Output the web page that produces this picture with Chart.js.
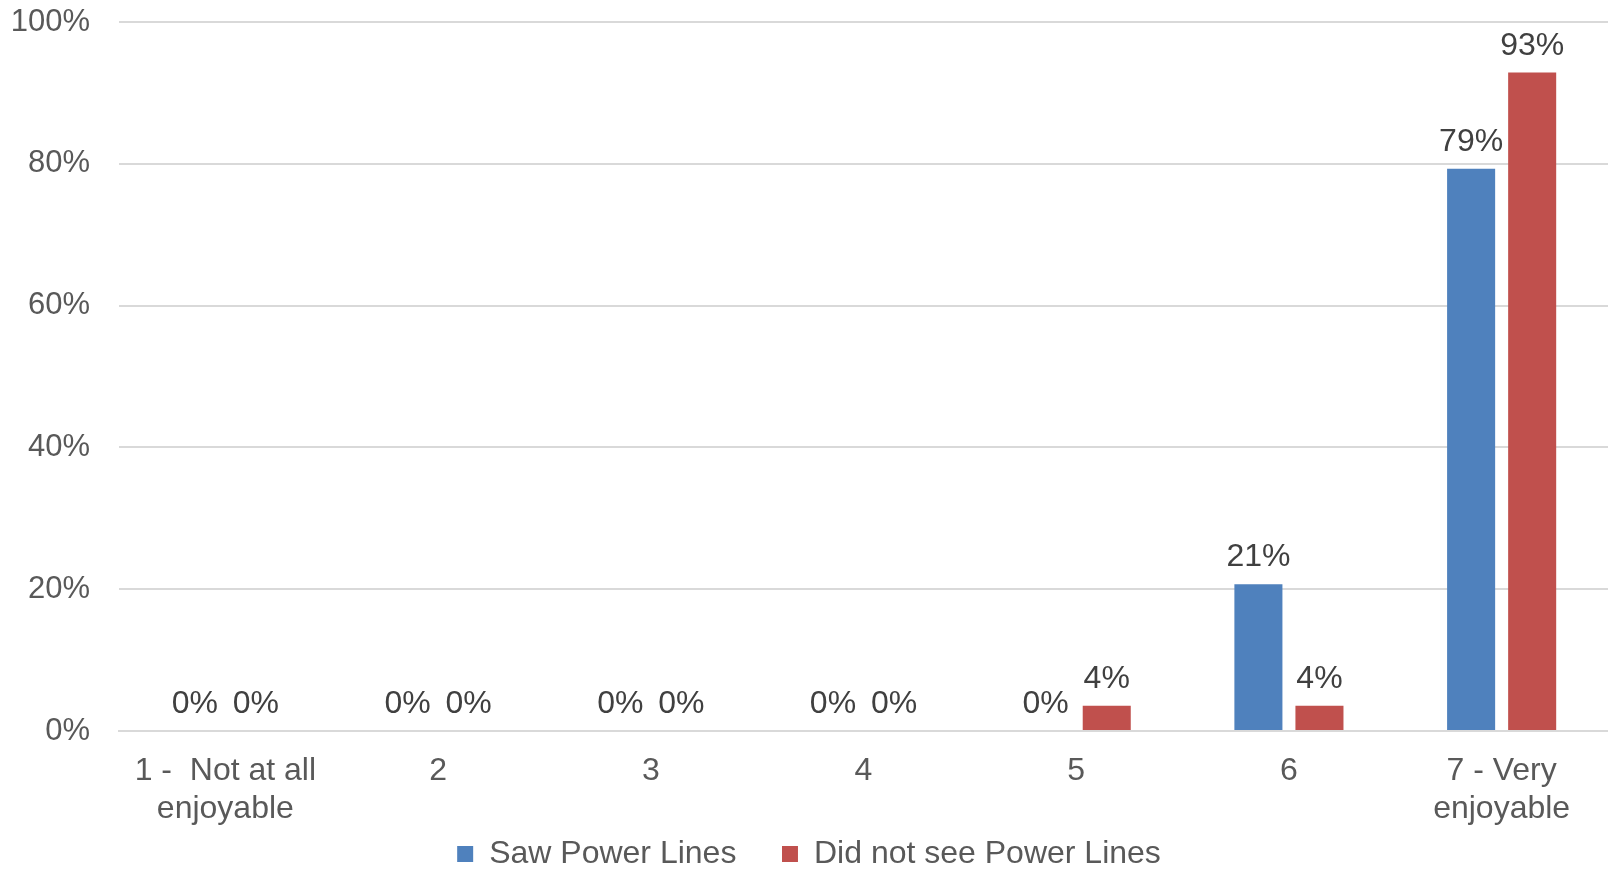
<!DOCTYPE html>
<html>
<head>
<meta charset="utf-8">
<script src="https://cdn.jsdelivr.net/npm/chart.js@4/dist/chart.umd.min.js"></script>
<style>
  html, body { margin: 0; padding: 0; background: #fff; }
  #wrap { width: 1608px; height: 869px; }
</style>
</head>
<body>
<div id="wrap"><canvas id="chartBar"></canvas></div>
<script>
  'use strict';

  var categories = [["1 -  Not at all", "enjoyable"], "2", "3", "4", "5", "6", ["7 - Very", "enjoyable"]];
  var sawValues = [0, 0, 0, 0, 0, 20.69, 79.31];
  var notSawValues = [0, 0, 0, 0, 3.57, 3.57, 92.86];
  var seriesNames = ["Saw Power Lines", "Did not see Power Lines"];
  var yTicks = [0, 20, 40, 60, 80, 100];

  var colors = {
    blue     : "#4f81bd",
    red      : "#c0504d",
    grid     : "#d9d9d9",
    tick     : "#595959",
    label    : "#404040"
  }

  var fontFamily = "'Liberation Sans', Arial, Helvetica, sans-serif"

  // draws the % value above each bar
  var valueLabels = {
    id: 'valueLabels',
    afterDatasetsDraw: function(chart) {
      var ctx = chart.ctx;
      ctx.save();
      ctx.font = "32px " + fontFamily;
      ctx.fillStyle = colors.label;
      ctx.textAlign = 'center';
      ctx.textBaseline = 'alphabetic';
      chart.data.datasets.forEach(function(ds, i) {
        chart.getDatasetMeta(i).data.forEach(function(bar, j) {
          ctx.fillText(Math.round(ds.data[j]) + '%', bar.x, bar.y - 18);
        });
      });
      ctx.restore();
    }
  }

  new Chart(document.getElementById('chartBar'), {
    type: 'bar',
    data: {
      labels: categories,
      datasets: [
        {
          label: seriesNames[0],
          backgroundColor: colors.blue,
          data: sawValues
        },
        {
          label: seriesNames[1],
          backgroundColor: colors.red,
          data: notSawValues
        }
      ]
    },
    options: {
      responsive: true,
      maintainAspectRatio: false,
      animation: false,
      categoryPercentage: 0.574,
      barPercentage: 0.787,
      layout: {
        padding: { left: 10, right: 0, top: 22, bottom: -11 }
      },
      plugins: {
        legend: {
          position: 'bottom',
          labels: {
            color: colors.tick,
            boxWidth: 16,
            boxHeight: 16,
            padding: 10,
            font: { size: 32, family: fontFamily },
            // wider gap after the first entry, like the original
            generateLabels: function(chart) {
              var items = Chart.defaults.plugins.legend.labels.generateLabels(chart);
              items[0].text = items[0].text + '    ';
              return items;
            }
          }
        },
        tooltip: { enabled: false }
      },
      scales: {
        x: {
          grid: { display: false, drawTicks: false },
          border: { display: true, color: colors.grid, width: 2 },
          afterFit: function(scale) {
            scale.height = 97;
            scale.paddingLeft = 0;
            scale.paddingRight = 0;
          },
          ticks: {
            color: colors.tick,
            maxRotation: 0,
            autoSkip: false,
            padding: 21,
            font: { size: 32, family: fontFamily, lineHeight: 1.19 }
          }
        },
        y: {
          min: 0,
          max: 100,
          afterBuildTicks: function(axis) {
            axis.ticks = yTicks.map(function(v) { return { value: v }; });
          },
          afterFit: function(scale) {
            scale.width = 109;
            scale.paddingTop = 0;
            scale.paddingBottom = 0;
          },
          grid: {
            color: colors.grid,
            lineWidth: 2,
            drawTicks: false
          },
          border: { display: false },
          ticks: {
            color: colors.tick,
            padding: 29,
            callback: function(v) { return v + '%'; },
            font: { size: 31, family: fontFamily }
          }
        }
      }
    },
    plugins: [valueLabels]
  });
</script>
</body>
</html>
